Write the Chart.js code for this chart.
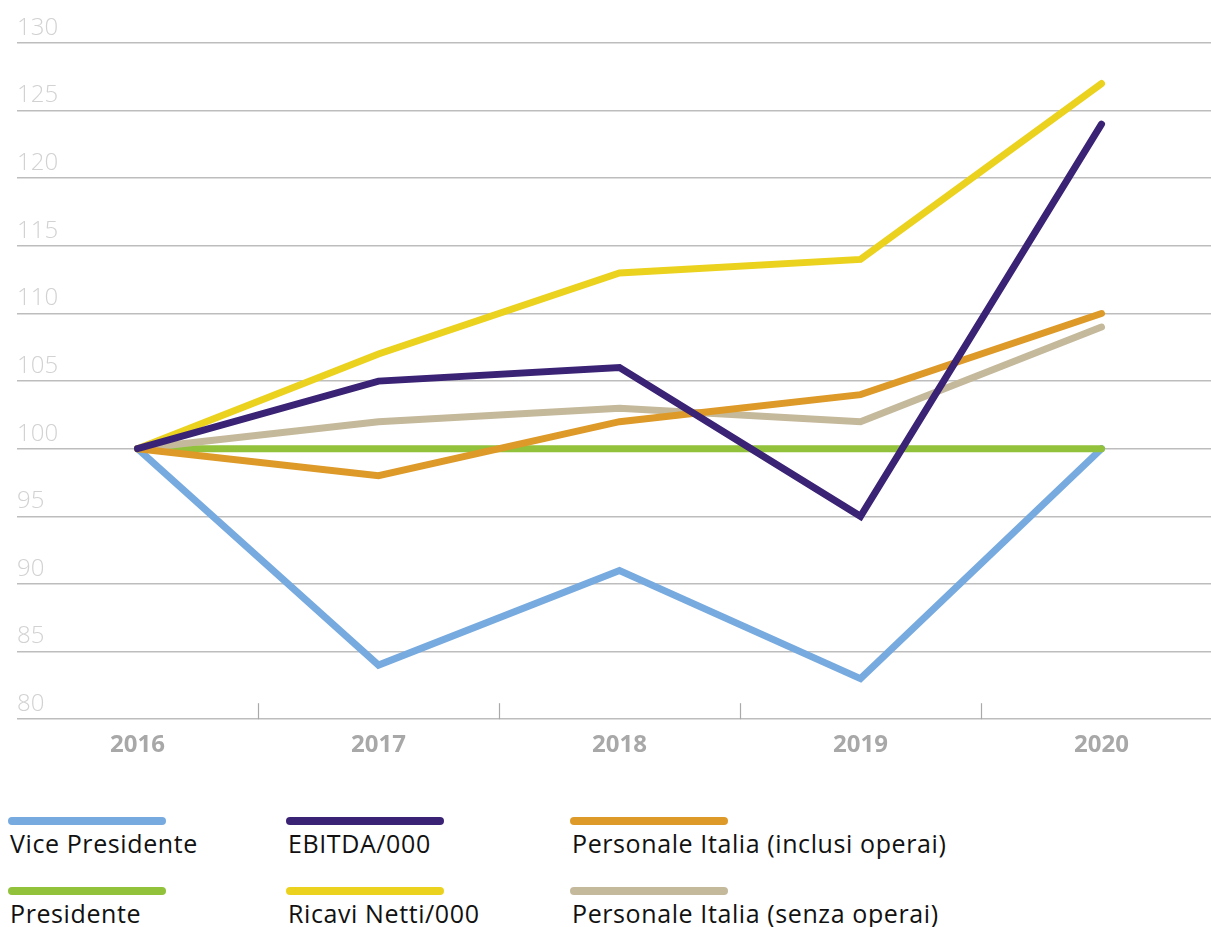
<!DOCTYPE html>
<html>
<head>
<meta charset="utf-8">
<script src="https://cdn.jsdelivr.net/npm/chart.js@4/dist/chart.umd.min.js"></script>
<style>
  html, body { margin: 0; padding: 0; background: #fff; overflow: hidden; }
  #wrap { position: relative; width: 1211px; height: 927px; overflow: hidden; }
  #c { position: absolute; left: 0; top: 0; }
  .leg { position: absolute; font-family: "Open Sans", sans-serif; font-size: 25px; letter-spacing: 0.6px; color: #111; }
  .leg .bar { width: 158px; height: 8px; border-radius: 4px; margin-left: -2px; }
  .leg .txt { margin-top: 1px; white-space: nowrap; }
</style>
</head>
<body>
<div id="wrap">
  <canvas id="c" width="1222" height="776"></canvas>
</div>
<script>
var years = ['2016', '2017', '2018', '2019', '2020'];

var vicePresidente = [100, 84, 91, 83, 100];
var ebitda = [100, 105, 106, 95, 124];
var personaleInclusi = [100, 98, 102, 104, 110];
var presidente = [100, 100, 100, 100, 100];
var ricaviNetti = [100, 107, 113, 114, 127];
var personaleSenza = [100, 102, 103, 102, 109];

var seriesNames = ['Vice Presidente', 'EBITDA/000', 'Personale Italia (inclusi operai)',
                   'Presidente', 'Ricavi Netti/000', 'Personale Italia (senza operai)'];
var seriesData = [vicePresidente, ebitda, personaleInclusi, presidente, ricaviNetti, personaleSenza];
var seriesColors = ['#77aadf', '#3a2274', '#de9a29', '#92c13b', '#ebd21e', '#c5b99b'];
// drawing order: lower number ends on top
var seriesOrder = [6, 1, 3, 5, 2, 4];

// small tick marks between the years, sitting on the axis line
var betweenTicks = {
  id: 'betweenTicks',
  afterDraw: function(chart) {
    var x = chart.scales.x, ctx = chart.ctx, bottom = chart.chartArea.bottom;
    ctx.save();
    ctx.strokeStyle = '#a9a9a9';
    ctx.lineWidth = 1.2;
    for (var i = 1; i < years.length; i++) {
      var px = Math.round((x.getPixelForValue(i - 1) + x.getPixelForValue(i)) / 2) + 0.5;
      ctx.beginPath();
      ctx.moveTo(px, bottom - 16);
      ctx.lineTo(px, bottom);
      ctx.stroke();
    }
    ctx.restore();
  }
};

new Chart(document.getElementById('c'), {
  type: 'line',
  data: {
    labels: years,
    datasets: seriesNames.map(function(name, i) {
      return {
        label: name,
        data: seriesData[i],
        borderColor: seriesColors[i],
        backgroundColor: seriesColors[i],
        borderWidth: 7,
        borderCapStyle: 'round',
        pointRadius: 0,
        tension: 0,
        order: seriesOrder[i]
      };
    })
  },
  options: {
    responsive: false,
    animation: false,
    layout: { padding: { left: 17, right: 0, top: 43, bottom: 4 } },
    plugins: { legend: { display: false }, tooltip: { enabled: false } },
    scales: {
      x: {
        offset: true,
        grid: { display: false, drawTicks: false },
        border: { display: false },
        ticks: {
          padding: 12,
          color: '#a8a8a8',
          font: { family: 'Open Sans', size: 24, weight: 'bold' }
        }
      },
      y: {
        min: 80,
        max: 130,
        grid: { color: '#bdbdbd', lineWidth: 1.5, drawTicks: false },
        border: { display: false },
        ticks: {
          stepSize: 5,
          mirror: true,
          padding: 0,
          color: '#d2d2d2',
          font: { family: 'Open Sans', size: 24, weight: '300', lineHeight: '30px' },
          callback: function(v) { return [String(v), '']; }
        }
      }
    }
  },
  plugins: [betweenTicks]
});

// legend, two rows of three columns
var legCols = [10, 288, 572];
var legRows = [817, 887];
var wrap = document.getElementById('wrap');
var legendOrder = [0, 1, 2, 3, 4, 5];
legendOrder.forEach(function(i) {
  var d = document.createElement('div');
  d.className = 'leg';
  d.style.left = legCols[i % 3] + 'px';
  d.style.top = legRows[Math.floor(i / 3)] + 'px';
  d.innerHTML = '<div class="bar" style="background:' + seriesColors[i] + '"></div>' +
                '<div class="txt">' + seriesNames[i] + '</div>';
  wrap.appendChild(d);
});
</script>
</body>
</html>
